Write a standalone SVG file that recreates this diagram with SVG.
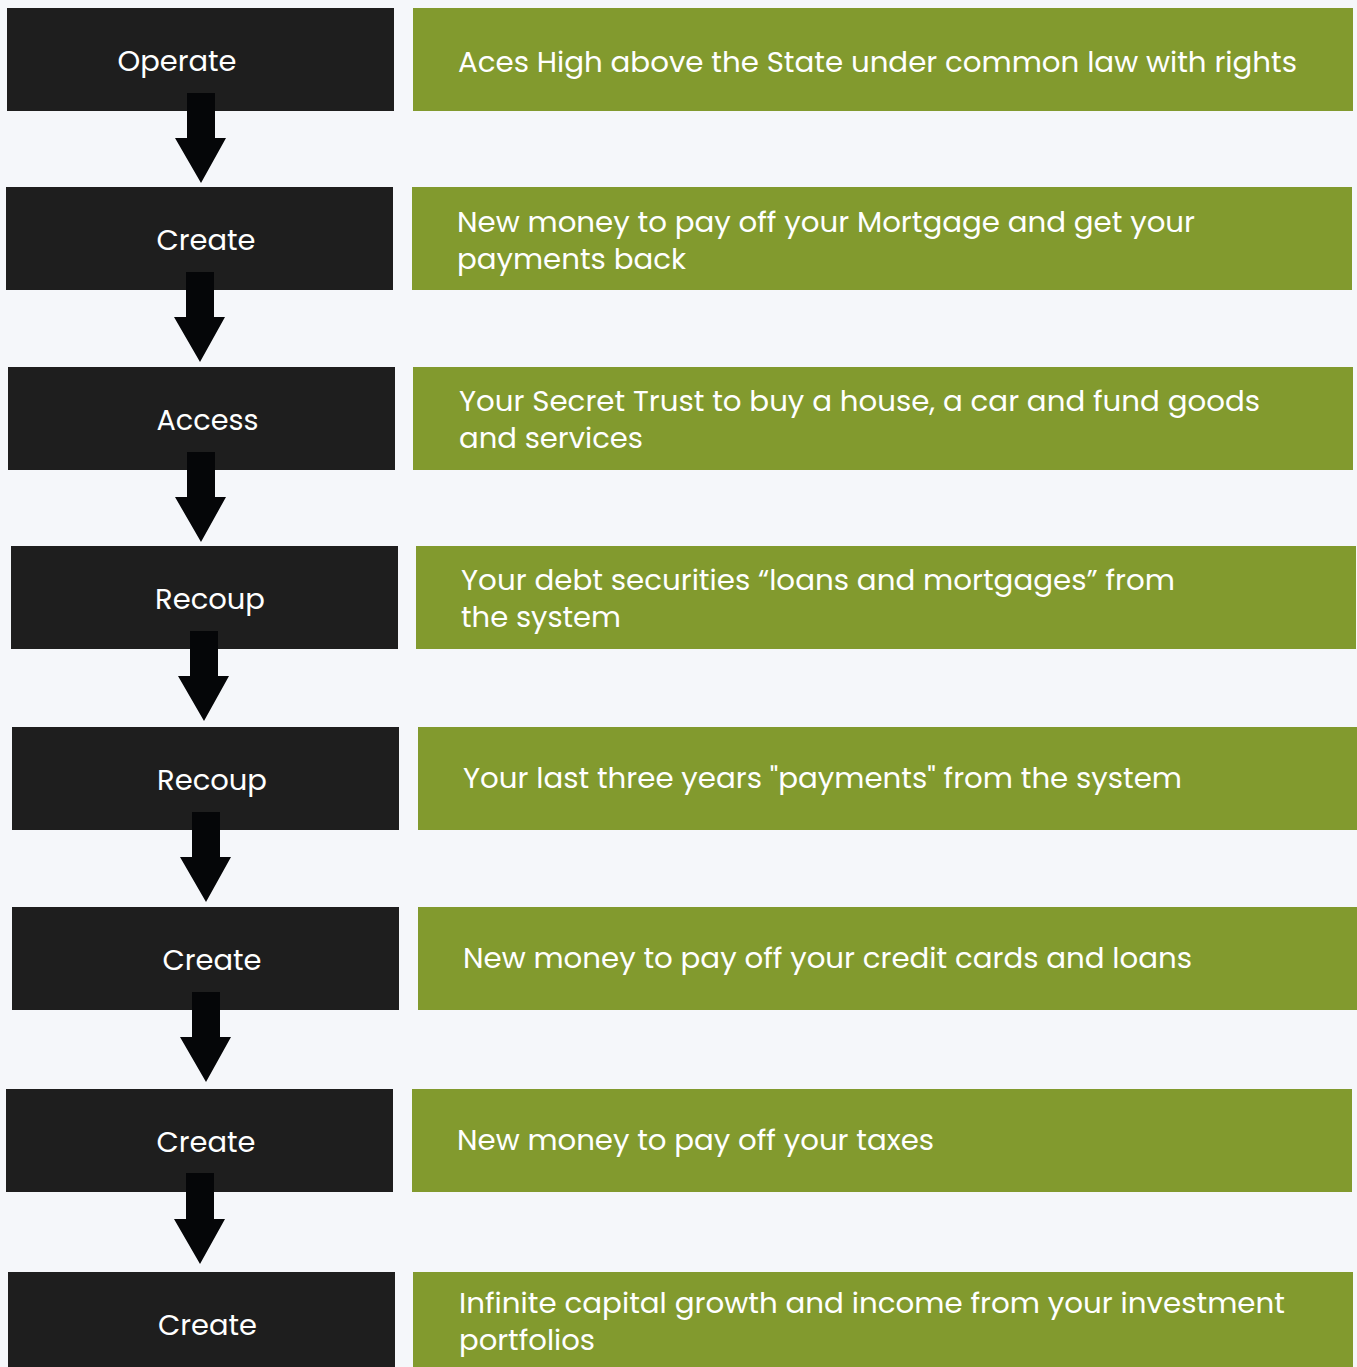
<svg xmlns="http://www.w3.org/2000/svg" width="1357" height="1367" viewBox="0 0 1357 1367">
<style>
.bg{fill:#f5f7fa}
.step{fill:#1e1e1e}
.desc{fill:#829a2e}
.arrow{fill:#050608}
text{font-family:Poppins,"Open Sans","Liberation Sans",sans-serif;font-size:29px;fill:#ffffff}
.lbl{text-anchor:middle}
</style>
<rect class="bg" x="0" y="0" width="1357" height="1367"/>
<g id="row1">
<g id="step1"><rect class="step" x="7" y="8" width="387" height="103"/><text class="lbl" x="177" y="71" textLength="119" lengthAdjust="spacingAndGlyphs">Operate</text></g>
<g id="desc1"><rect class="desc" x="413" y="8" width="940" height="103"/><text x="458" y="72" textLength="839" lengthAdjust="spacingAndGlyphs">Aces High above the State under common law with rights</text></g>
</g>
<g id="row2">
<g id="step2"><rect class="step" x="6" y="187" width="387" height="103"/><text class="lbl" x="206" y="250" textLength="99" lengthAdjust="spacingAndGlyphs">Create</text></g>
<g id="desc2"><rect class="desc" x="412" y="187" width="940" height="103"/><text x="457" y="232" textLength="738" lengthAdjust="spacingAndGlyphs">New money to pay off your Mortgage and get your</text><text x="457" y="269" textLength="229" lengthAdjust="spacingAndGlyphs">payments back</text></g>
</g>
<g id="row3">
<g id="step3"><rect class="step" x="8" y="367" width="387" height="103"/><text class="lbl" x="207.5" y="430" textLength="102" lengthAdjust="spacingAndGlyphs">Access</text></g>
<g id="desc3"><rect class="desc" x="413" y="367" width="940" height="103"/><text x="459" y="411" textLength="801" lengthAdjust="spacingAndGlyphs">Your Secret Trust to buy a house, a car and fund goods</text><text x="459" y="448" textLength="184" lengthAdjust="spacingAndGlyphs">and services</text></g>
</g>
<g id="row4">
<g id="step4"><rect class="step" x="11" y="546" width="387" height="103"/><text class="lbl" x="210" y="609" textLength="110" lengthAdjust="spacingAndGlyphs">Recoup</text></g>
<g id="desc4"><rect class="desc" x="416" y="546" width="940" height="103"/><text x="461" y="590" textLength="714" lengthAdjust="spacingAndGlyphs">Your debt securities “loans and mortgages” from</text><text x="461" y="627" textLength="160" lengthAdjust="spacingAndGlyphs">the system</text></g>
</g>
<g id="row5">
<g id="step5"><rect class="step" x="12" y="727" width="387" height="103"/><text class="lbl" x="212" y="790" textLength="110" lengthAdjust="spacingAndGlyphs">Recoup</text></g>
<g id="desc5"><rect class="desc" x="418" y="727" width="939" height="103"/><text x="463" y="788" textLength="719" lengthAdjust="spacingAndGlyphs">Your last three years "payments" from the system</text></g>
</g>
<g id="row6">
<g id="step6"><rect class="step" x="12" y="907" width="387" height="103"/><text class="lbl" x="212" y="970" textLength="99" lengthAdjust="spacingAndGlyphs">Create</text></g>
<g id="desc6"><rect class="desc" x="418" y="907" width="939" height="103"/><text x="463" y="968" textLength="729" lengthAdjust="spacingAndGlyphs">New money to pay off your credit cards and loans</text></g>
</g>
<g id="row7">
<g id="step7"><rect class="step" x="6" y="1089" width="387" height="103"/><text class="lbl" x="206" y="1152" textLength="99" lengthAdjust="spacingAndGlyphs">Create</text></g>
<g id="desc7"><rect class="desc" x="412" y="1089" width="940" height="103"/><text x="457" y="1150" textLength="477" lengthAdjust="spacingAndGlyphs">New money to pay off your taxes</text></g>
</g>
<g id="row8">
<g id="step8"><rect class="step" x="8" y="1272" width="387" height="95"/><text class="lbl" x="207.5" y="1335" textLength="99" lengthAdjust="spacingAndGlyphs">Create</text></g>
<g id="desc8"><rect class="desc" x="413" y="1272" width="940" height="95"/><text x="459" y="1313" textLength="826" lengthAdjust="spacingAndGlyphs">Infinite capital growth and income from your investment</text><text x="459" y="1350" textLength="136" lengthAdjust="spacingAndGlyphs">portfolios</text></g>
</g>
<g id="connectors">
<polygon class="arrow" points="187,93 215,93 215,138 226,138 201,183 175,138 187,138"/>
<polygon class="arrow" points="186,272 214,272 214,317 225,317 200,362 174,317 186,317"/>
<polygon class="arrow" points="187,452 215,452 215,497 226,497 201,542 175,497 187,497"/>
<polygon class="arrow" points="190,631 218,631 218,676 229,676 204,721 178,676 190,676"/>
<polygon class="arrow" points="192,812 220,812 220,857 231,857 206,902 180,857 192,857"/>
<polygon class="arrow" points="192,992 220,992 220,1037 231,1037 206,1082 180,1037 192,1037"/>
<polygon class="arrow" points="186,1173 214,1173 214,1219 225,1219 200,1264 174,1219 186,1219"/>
</g>
</svg>
